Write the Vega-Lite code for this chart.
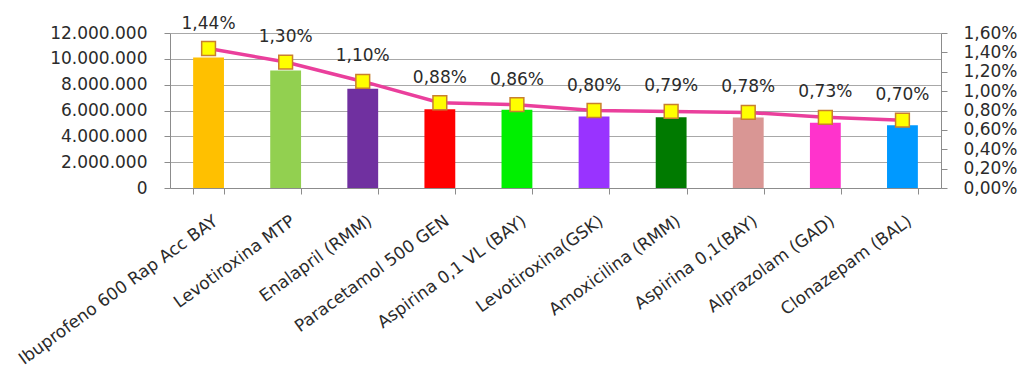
{
  "$schema": "https://vega.github.io/schema/vega-lite/v6.json",
  "width": 771,
  "height": 155,
  "autosize": {"type": "none"},
  "padding": {"left": 170, "top": 33, "right": 83, "bottom": 182},
  "background": "white",
  "config": {
    "locale": {"number": {"decimal": ",", "thousands": ".", "grouping": [3], "currency": ["", " €"]}},
    "view": {"stroke": null},
    "font": "DejaVu Sans",
    "axis": {"labelFont": "DejaVu Sans", "labelColor": "#2b2b2b", "domainColor": "#8c8c8c", "tickColor": "#8c8c8c", "gridColor": "#a8a8a8", "titleFont": "DejaVu Sans"}
  },
  "data": {"values": [
    {"producto": "Ibuprofeno 600 Rap Acc BAY", "unidades": 10100000, "pct": 0.0144},
    {"producto": "Levotiroxina MTP", "unidades": 9100000, "pct": 0.0130},
    {"producto": "Enalapril (RMM)", "unidades": 7680000, "pct": 0.0110},
    {"producto": "Paracetamol 500 GEN", "unidades": 6100000, "pct": 0.0088},
    {"producto": "Aspirina 0,1 VL (BAY)", "unidades": 6050000, "pct": 0.0086},
    {"producto": "Levotiroxina(GSK)", "unidades": 5540000, "pct": 0.0080},
    {"producto": "Amoxicilina (RMM)", "unidades": 5480000, "pct": 0.0079},
    {"producto": "Aspirina 0,1(BAY)", "unidades": 5460000, "pct": 0.0078},
    {"producto": "Alprazolam (GAD)", "unidades": 5060000, "pct": 0.0073},
    {"producto": "Clonazepam  (BAL)", "unidades": 4860000, "pct": 0.0070}
  ]},
  "encoding": {
    "x": {
      "field": "producto", "type": "nominal", "sort": null,
      "scale": {"paddingInner": 0.6, "paddingOuter": 0.3},
      "axis": {"title": null, "labelAngle": -36, "labelAlign": "right", "labelBaseline": "middle", "labelFontSize": 17, "labelPadding": 25, "labelOffset": 7, "tickSize": 6, "tickBand": "extent", "labelLimit": 400, "grid": false}
    }
  },
  "layer": [
    {
      "mark": {"type": "bar"},
      "encoding": {
        "y": {
          "field": "unidades", "type": "quantitative",
          "scale": {"domain": [0, 12000000]},
          "axis": {"title": null, "values": [0, 2000000, 4000000, 6000000, 8000000, 10000000, 12000000], "format": ",d", "labelFontSize": 17, "tickSize": 6, "labelPadding": 17, "grid": true}
        },
        "color": {
          "field": "producto", "type": "nominal", "sort": null, "legend": null,
          "scale": {
            "domain": ["Ibuprofeno 600 Rap Acc BAY", "Levotiroxina MTP", "Enalapril (RMM)", "Paracetamol 500 GEN", "Aspirina 0,1 VL (BAY)", "Levotiroxina(GSK)", "Amoxicilina (RMM)", "Aspirina 0,1(BAY)", "Alprazolam (GAD)", "Clonazepam  (BAL)"],
            "range": ["#ffc000", "#92d050", "#7030a0", "#ff0000", "#00f000", "#9933ff", "#007a00", "#d99694", "#ff33cc", "#0099ff"]
          }
        }
      }
    },
    {
      "layer": [
        {"mark": {"type": "line", "color": "#ea3f9c", "strokeWidth": 3.5}},
        {"mark": {"type": "point", "shape": "square", "filled": true, "fill": "#ffff00", "stroke": "#c8802e", "strokeWidth": 1.5, "size": 190, "opacity": 1}},
        {"mark": {"type": "text", "dy": -25, "fontSize": 17, "font": "DejaVu Sans", "color": "#2b2b2b", "baseline": "middle"},
         "encoding": {"text": {"field": "pct", "type": "quantitative", "format": ".2%"}}}
      ],
      "encoding": {
        "y": {
          "field": "pct", "type": "quantitative",
          "scale": {"domain": [0, 0.016]},
          "axis": {"orient": "right", "title": null, "values": [0, 0.002, 0.004, 0.006, 0.008, 0.01, 0.012, 0.014, 0.016], "format": ".2%", "labelFontSize": 17, "tickSize": 6, "labelPadding": 16, "grid": false}
        }
      }
    }
  ],
  "resolve": {"scale": {"y": "independent"}}
}
